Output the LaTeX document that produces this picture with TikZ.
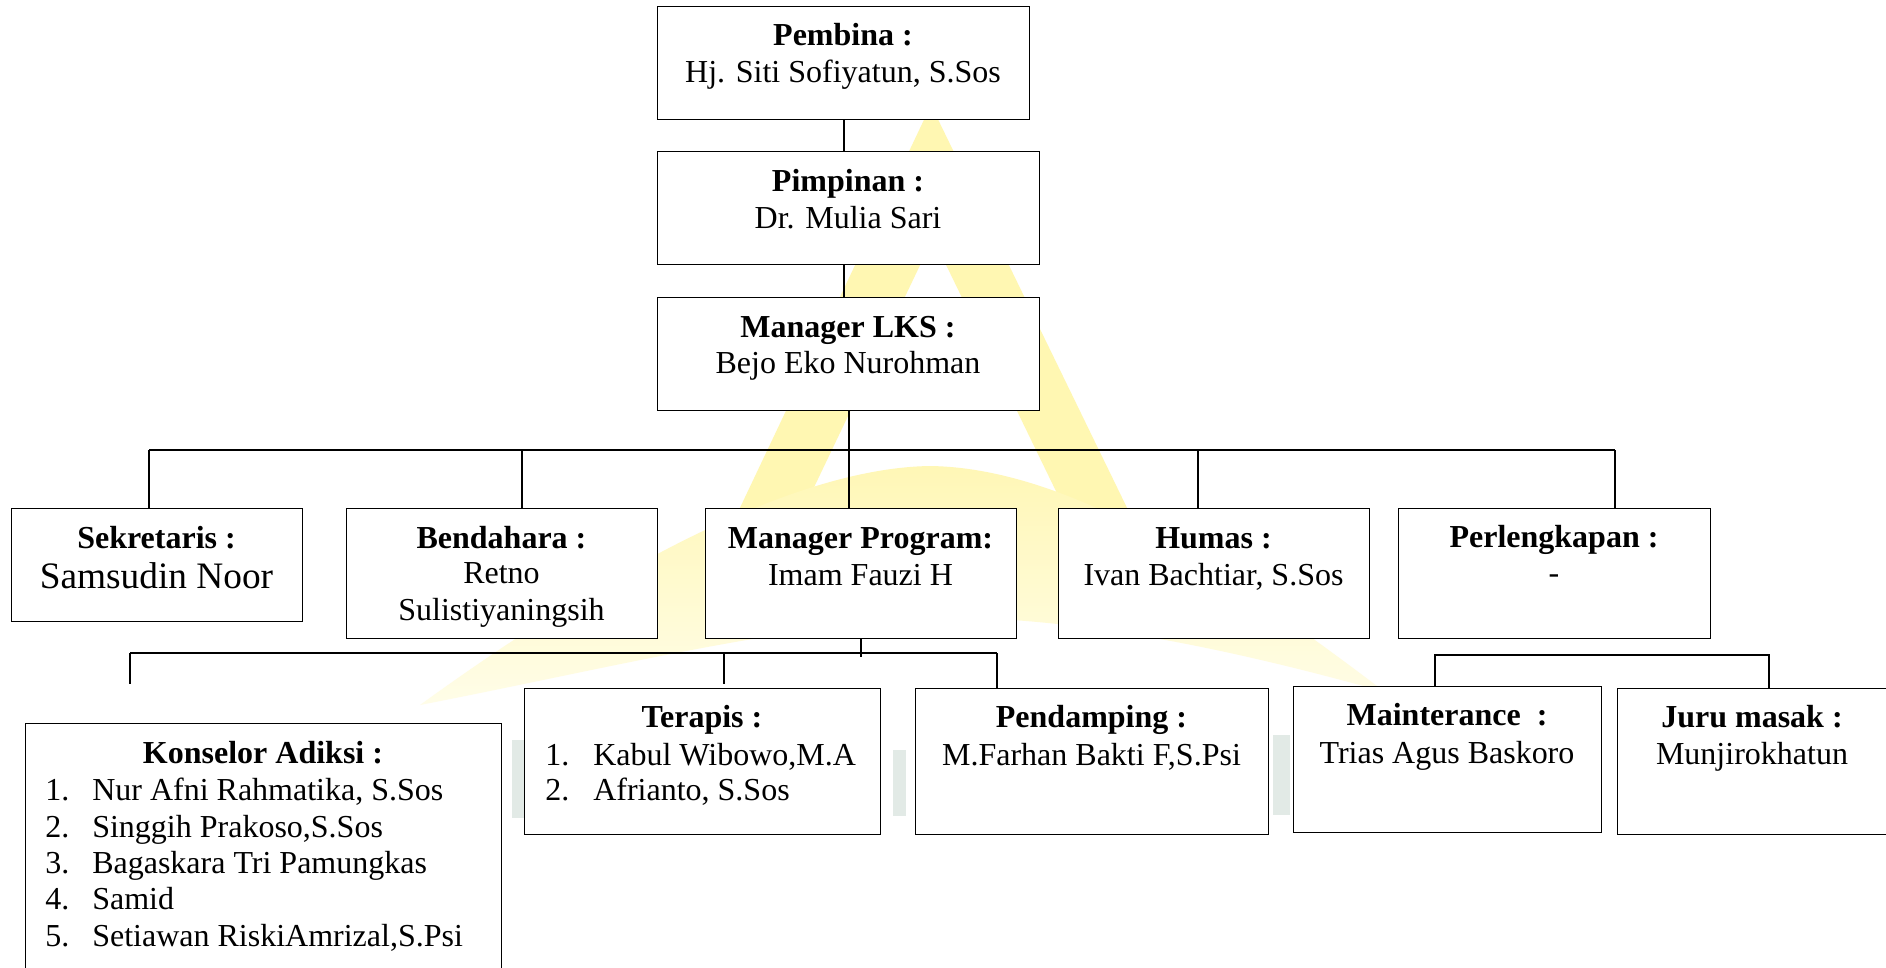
\documentclass[tikz,border=0pt]{standalone}
\usepackage{fontspec}
\setmainfont{Liberation Serif}
\definecolor{wmyel}{RGB}{255,247,178}
\definecolor{wmswooshA}{RGB}{255,247,182}
\definecolor{wmswooshB}{RGB}{255,253,232}
\definecolor{wmgray}{RGB}{226,234,230}
\tikzset{
  box/.style={draw=black, line width=1.1pt, fill=white, inner sep=0pt, anchor=north west},
  conn/.style={draw=black, line width=1.5pt},
  hd/.style={font=\fontsize{24}{28}\selectfont\bfseries, anchor=base, inner sep=0pt},
  tx/.style={font=\fontsize{24}{28}\selectfont, anchor=base, inner sep=0pt},
  txl/.style={font=\fontsize{24}{28}\selectfont, anchor=base west, inner sep=0pt},
}
\begin{document}
\begin{tikzpicture}[x=0.75pt, y=-0.75pt]
\useasboundingbox (0,0) rectangle (1886,968);
\clip (0,0) rectangle (1886,968);
\fill[white] (0,0) rectangle (1886,968);
% watermark
\fill[wmyel] (931,105) -- (1167,590) -- (1104,590) -- (933,238) -- (765,590) -- (701,590) -- cycle;
\shade[top color=wmswooshA, bottom color=wmswooshB]
   (420,705) .. controls (620,560) and (800,468) .. (930,466)
   .. controls (1080,468) and (1250,590) .. (1385,692)
   .. controls (1200,640) and (1050,615) .. (930,618)
   .. controls (780,625) and (600,670) .. cycle;
\fill[wmgray] (512,740) rectangle (524,818);
\fill[wmgray] (893,750) rectangle (906,816);
\fill[wmgray] (1273,735) rectangle (1290,815);
% boxes
\node[box, minimum width={(1029-657)*0.75pt}, minimum height={(119-6)*0.75pt}] (pembina) at (657,6) {};
\node[box, minimum width={(1039-657)*0.75pt}, minimum height={(264-151)*0.75pt}] (pimpinan) at (657,151) {};
\node[box, minimum width={(1039-657)*0.75pt}, minimum height={(410-297)*0.75pt}] (lks) at (657,297) {};
\node[box, minimum width={(302-11)*0.75pt}, minimum height={(621-508)*0.75pt}] (sek) at (11,508) {};
\node[box, minimum width={(657-346)*0.75pt}, minimum height={(638-508)*0.75pt}] (ben) at (346,508) {};
\node[box, minimum width={(1016-705)*0.75pt}, minimum height={(638-508)*0.75pt}] (mp) at (705,508) {};
\node[box, minimum width={(1369-1058)*0.75pt}, minimum height={(638-508)*0.75pt}] (humas) at (1058,508) {};
\node[box, minimum width={(1710-1398)*0.75pt}, minimum height={(638-508)*0.75pt}] (perl) at (1398,508) {};
\node[box, minimum width={(501-25)*0.75pt}, minimum height={(1000-723)*0.75pt}] (kons) at (25,723) {};
\node[box, minimum width={(880-524)*0.75pt}, minimum height={(834-688)*0.75pt}] (terapis) at (524,688) {};
\node[box, minimum width={(1268-915)*0.75pt}, minimum height={(834-688)*0.75pt}] (pend) at (915,688) {};
\node[box, minimum width={(1601-1293)*0.75pt}, minimum height={(832-686)*0.75pt}] (maint) at (1293,686) {};
\node[box, minimum width={(1910-1617)*0.75pt}, minimum height={(834-688)*0.75pt}] (juru) at (1617,688) {};
% connectors
\draw[conn] (pembina.south) -- (pembina.south |- pimpinan.north);
\draw[conn] (pimpinan.south -| pembina.south) -- (lks.north -| pembina.south);
\coordinate (bL) at (149,450);
\coordinate (bB) at (522,450);
\coordinate (bH) at (1198,450);
\coordinate (bR) at (1615,450);
\draw[conn] (bL) -- (bR);
\draw[conn] (lks.south) -- (lks.south |- mp.north);
\draw[conn] (bL) -- (bL |- sek.north);
\draw[conn] (bB) -- (bB |- ben.north);
\draw[conn] (bH) -- (bH |- humas.north);
\draw[conn] (bR) -- (bR |- perl.north);
\coordinate (lL) at (130,653);
\coordinate (lT) at (724,653);
\coordinate (lR) at (997,653);
\draw[conn] (mp.south) -- ++(0,18);
\draw[conn] (lL) -- (lR);
\draw[conn] (lL) -- ++(0,31);
\draw[conn] (lT) -- ++(0,31);
\draw[conn] (lR) -- (lR |- pend.north);
\coordinate (rL) at (1435,655);
\coordinate (rR) at (1769,655);
\draw[conn] (rL |- maint.north) -- (rL) -- (rR) -- (rR |- juru.north);
% texts
\node[hd] (pembinaH) at (843,45) {Pembina :};
\node[tx] (pembinaN) at (843,82) {Hj. Siti Sofiyatun, S.Sos};
\node[hd] (pimpinanH) at (848,191) {Pimpinan :};
\node[tx] (pimpinanN) at (848,228) {Dr. Mulia Sari};
\node[hd] (lksH) at (848,337) {Manager LKS :};
\node[tx] (lksN) at (848,373) {Bejo Eko Nurohman};
\node[hd] (sekH) at (156.5,548) {Sekretaris :};
\node[anchor=base, inner sep=0pt, font=\fontsize{28}{32}\selectfont] (sekN) at (156.5,588) {Samsudin Noor};
\node[hd] (benH) at (501.5,548) {Bendahara :};
\node[tx] (benN1) at (501.5,583) {Retno};
\node[tx] (benN2) at (501.5,620) {Sulistiyaningsih};
\node[hd] (mpH) at (860.5,548) {Manager Program:};
\node[tx] (mpN) at (860.5,585) {Imam Fauzi H};
\node[hd] (humasH) at (1213.5,548) {Humas :};
\node[tx] (humasN) at (1213.5,585) {Ivan Bachtiar, S.Sos};
\node[hd] (perlH) at (1554,547) {Perlengkapan :};
\node[tx] (perlN) at (1554,583) {-};
\node[hd] (konsH) at (263,763) {Konselor Adiksi :};
\foreach \i/\yy/\t in {1/800/{Nur Afni Rahmatika, S.Sos},2/837/{Singgih Prakoso,S.Sos},3/873/{Bagaskara Tri Pamungkas},4/909/{Samid},5/946/{Setiawan RiskiAmrizal,S.Psi}}{
  \node[txl] (konsNum\i) at (45,\yy) {\i.};
  \node[txl] (konsItem\i) at (92,\yy) {\t};
}
\node[hd] (terH) at (702,727) {Terapis :};
\node[txl] (terNum1) at (545,765) {1.};
\node[txl] (terItem1) at (593,765) {Kabul Wibowo,M.A};
\node[txl] (terNum2) at (545,800) {2.};
\node[txl] (terItem2) at (593,800) {Afrianto, S.Sos};
\node[hd] (pendH) at (1091.5,727) {Pendamping :};
\node[tx] (pendN) at (1091.5,765) {M.Farhan Bakti F,S.Psi};
\node[hd] (maintH) at (1447,725) {Mainterance\ \ :};
\node[tx] (maintN) at (1447,763) {Trias Agus Baskoro};
\node[hd] (juruH) at (1752,727) {Juru masak :};
\node[tx] (juruN) at (1752,764) {Munjirokhatun};
\end{tikzpicture}
\end{document}
